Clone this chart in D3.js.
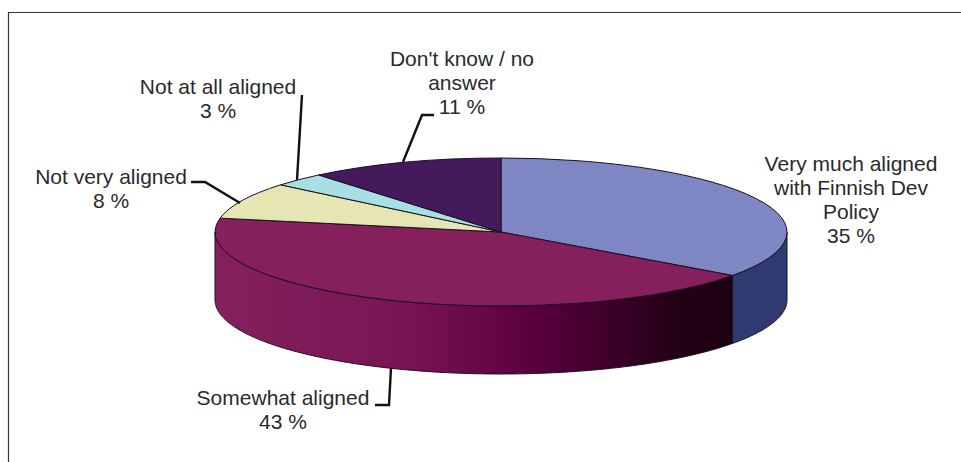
<!DOCTYPE html>
<meta charset="utf-8">
<head>
<style>
  html, body { margin: 0; background: #fff; }
  text { font-family: "Liberation Sans", Arial, sans-serif; font-size: 21px; fill: #2a2a2a; text-anchor: middle; }
  .leader { fill: none; stroke: #111; stroke-width: 2.4; }
  .edge { stroke: #1a1020; stroke-width: 1; }
</style>
</head>
<body>
<script src="https://cdnjs.cloudflare.com/ajax/libs/d3/7.8.5/d3.min.js"></script>
<script>
const categories = ["Very much aligned with Finnish Dev Policy", "Somewhat aligned", "Not very aligned", "Not at all aligned", "Don't know / no answer"];
const values = [35, 43, 8, 3, 11];
const topColors = ["#7f86c4", "#85205c", "#e6e6b4", "#a8dfe2", "#451a5c"];
const wallColors = ["#2f3a70", "url(#wallShade)", "#a0a070", "#6a9a9c", "#2a103a"];

// each label: text lines, centre x, first baseline, leader points
const labelLines = [
  ["Very much aligned", "with Finnish Dev", "Policy", "35 %"],
  ["Somewhat aligned", "43 %"],
  ["Not very aligned", "8 %"],
  ["Not at all aligned", "3 %"],
  ["Don't know / no", "answer", "11 %"]
];
const labelX = [851, 283, 111, 218, 462];
const labelY = [171, 405, 184, 94, 66];
const leaders = [
  null,
  [[375, 405], [389, 405], [391, 368]],
  [[191, 182], [205, 182], [240, 203]],
  [[302, 95], [297, 180]],
  [[434, 115], [422, 115], [403, 162]]
];

const width = 961, height = 462;
const cx = 501, cy = 232, rx = 286, ry = 74, depth = 68;

const svg = d3.select("body").append("svg")
  .attr("width", width)
  .attr("height", height)
  .style("display", "block");

const grad = svg.append("defs").append("linearGradient")
  .attr("id", "wallShade")
  .attr("gradientUnits", "userSpaceOnUse")
  .attr("x1", cx - rx).attr("x2", 732).attr("y1", 0).attr("y2", 0);
grad.selectAll("stop")
  .data([[0, "#85205c"], [0.36, "#7a1555"], [0.6, "#5c0040"], [0.74, "#42002c"], [0.9, "#220014"], [1, "#1c0010"]])
  .join("stop")
  .attr("offset", d => d[0])
  .attr("stop-color", d => d[1]);

// frame, only top and left are drawn in the picture
svg.append("path")
  .attr("d", "M8.5,462V12.5H961")
  .attr("fill", "none")
  .attr("stroke", "#333")
  .attr("stroke-width", 1.2);

const arcs = d3.pie().sort(null)(values);

// side wall, only the front half of the ellipse is visible
const wall = d3.area()
  .x(a => cx + rx * Math.sin(a))
  .y0(a => cy - ry * Math.cos(a))
  .y1(a => cy - ry * Math.cos(a) + depth);

const walls = arcs.map((d, i) => ({
  i,
  from: Math.max(d.startAngle, Math.PI / 2),
  to: Math.min(d.endAngle, Math.PI * 1.5)
})).filter(d => d.to > d.from);

svg.append("g").selectAll("path")
  .data(walls)
  .join("path")
  .attr("class", "edge")
  .attr("fill", d => wallColors[d.i])
  .attr("d", d => wall(d3.range(d.from, d.to, 0.01).concat(d.to)));

const arc = d3.arc().innerRadius(0).outerRadius(rx);

svg.append("g")
  .attr("transform", `translate(${cx},${cy}) scale(1,${ry / rx})`)
  .selectAll("path")
  .data(arcs)
  .join("path")
  .attr("class", "edge")
  .attr("vector-effect", "non-scaling-stroke")
  .attr("fill", (d, i) => topColors[i])
  .attr("d", arc);

const line = d3.line();
svg.append("g").selectAll("path")
  .data(leaders.filter(d => d))
  .join("path")
  .attr("class", "leader")
  .attr("d", line);

const labels = svg.append("g").selectAll("text")
  .data(categories)
  .join("text")
  .attr("x", (d, i) => labelX[i])
  .attr("y", (d, i) => labelY[i]);
labels.selectAll("tspan")
  .data((d, i) => labelLines[i].map(t => ({t, x: labelX[i]})))
  .join("tspan")
  .attr("x", d => d.x)
  .attr("dy", (d, j) => j ? 24 : 0)
  .text(d => d.t);
</script>
</body>
